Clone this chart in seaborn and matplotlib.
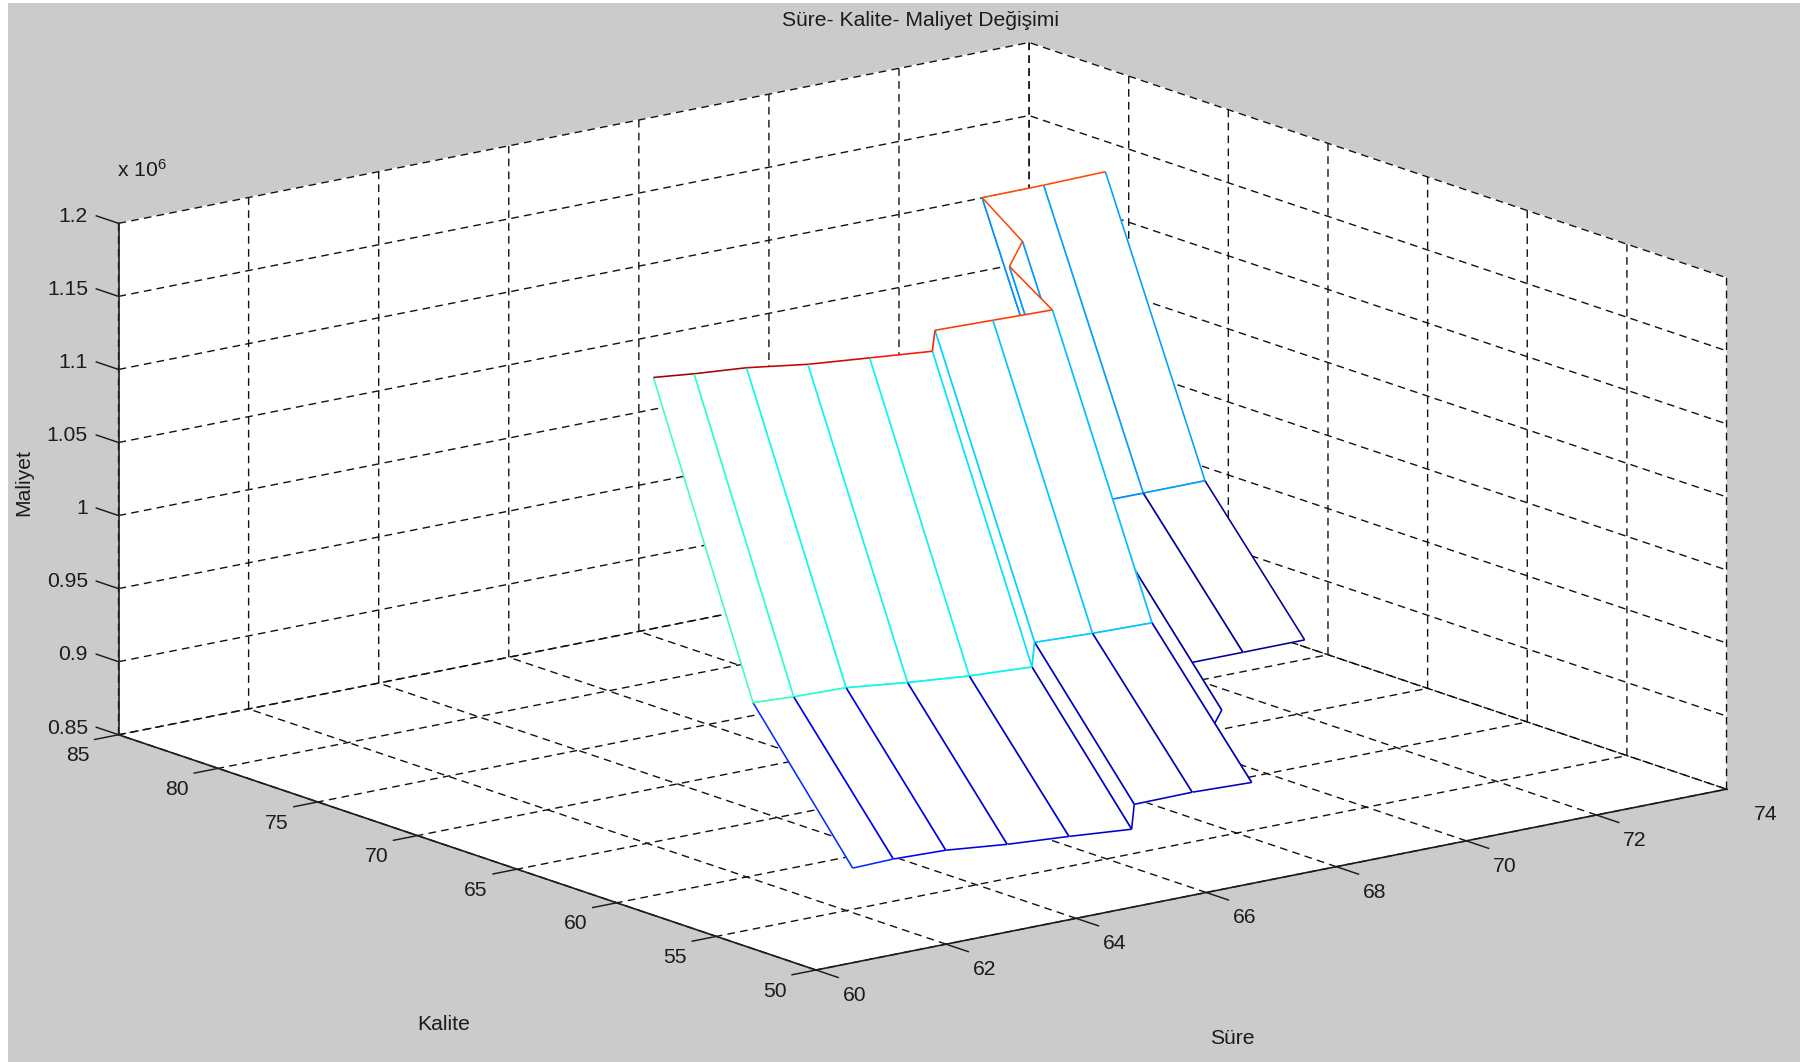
import numpy as np
import seaborn as sns
import matplotlib
matplotlib.use("Agg")
import matplotlib.pyplot as plt
from matplotlib.patches import Rectangle
from matplotlib.transforms import ScaledTranslation
from mpl_toolkits.mplot3d import proj3d
from mpl_toolkits.mplot3d.art3d import Poly3DCollection, Line3DCollection

# ---- data ----
sure = [62.096, 62.72, 63.526, 64.47, 65.42, 66.385, 66.425, 67.315, 68.23, 69.715, 69.915, 69.295, 70.24, 71.19]
kalite_ust = [65, 65, 65, 65, 65, 65, 65, 65, 65, 72, 72, 72, 72, 72]
kalite_orta = [60, 60, 60, 60, 60, 60, 60, 60, 60, 67, 67, 67, 67, 67]
kalite_alt = [55, 55, 55, 55, 55, 55, 55, 55, 55, 62, 62, 62, 62, 62]
maliyet_ust = [1.168, 1.165, 1.162, 1.156, 1.152, 1.148, 1.162, 1.161, 1.160, 1.1444, 1.1598, 1.1952, 1.1954, 1.1962]
maliyet_orta = [0.9684, 0.9669, 0.966, 0.9612, 0.9573, 0.9549, 0.9714, 0.9697, 0.9688, 0.9566, 0.972, 1.0077, 1.0076, 1.0077]
maliyet_alt = [0.8782, 0.8789, 0.8778, 0.8735, 0.8705, 0.8669, 0.8836, 0.884, 0.8826, 0.8701, 0.885, 0.9217, 0.9217, 0.9218]
renk_ust = [0.97, 0.96, 0.94, 0.92, 0.89, 0.875, 0.85, 0.85, 0.84, 0.83, 0.83, 0.83, 0.83, 0.83]
renk_orta = [0.43, 0.40, 0.37, 0.365, 0.365, 0.35, 0.33, 0.32, 0.31, 0.27, 0.27, 0.265, 0.28, 0.28]
renk_alt = [0.17, 0.10, 0.09, 0.08, 0.07, 0.06, 0.055, 0.05, 0.045, 0.04, 0.035, 0.03, 0.02, 0.02]

sure_ticks = [60, 62, 64, 66, 68, 70, 72, 74]
kalite_ticks = [50, 55, 60, 65, 70, 75, 80, 85]
maliyet_ticks = [0.85, 0.9, 0.95, 1.0, 1.05, 1.1, 1.15, 1.2]
maliyet_labels = ["0.85", "0.9", "0.95", "1", "1.05", "1.1", "1.15", "1.2"]

W, H = 1800, 1062
GREY = "#CBCBCB"
INK = "#1c1c1c"
FS = 15.2

sns.set_theme(style="ticks")
plt.rcParams["font.family"] = ["Liberation Sans", "DejaVu Sans"]
plt.rcParams["mathtext.default"] = "regular"
jet = matplotlib.colormaps["jet"]

fig = plt.figure(figsize=(W / 100, H / 100), dpi=100, facecolor="white")
fig.add_artist(Rectangle((8 / W, 0), (W - 8) / W, (H - 3) / H, transform=fig.transFigure,
                         facecolor=GREY, edgecolor="none", zorder=-10))

ax = fig.add_axes([0.1, 0.1, 800 / W, 800 / H], projection="3d", proj_type="ortho", computed_zorder=False)
ax.patch.set_alpha(0)
ax.view_init(elev=15, azim=-127.5)
ax.set_box_aspect((1148, 1146, 529.6))
ax.set_xlim(60, 74, view_margin=0)
ax.set_ylim(50, 85, view_margin=0)
ax.set_zlim(0.85, 1.2, view_margin=0)
ax.set_xticks(sure_ticks)
ax.set_yticks(kalite_ticks)
ax.set_zticks(maliyet_ticks)
ax.set_zticklabels(maliyet_labels)

for axis in (ax.xaxis, ax.yaxis, ax.zaxis):
    axis.set_pane_color((1, 1, 1, 1))
    axis.pane.set_edgecolor("white")
    axis.line.set_color(INK)
    axis.line.set_linewidth(1.2)
    info = axis._axinfo
    info["grid"].update(color="#111111", linewidth=1.0, linestyle=(0, (5.5, 3.8)))
    info["tick"].update(inward_factor=0, outward_factor=0)
ax.tick_params(axis="x", labelsize=FS, labelcolor=INK, pad=6)
ax.tick_params(axis="y", labelsize=FS, labelcolor=INK, pad=6)
ax.tick_params(axis="z", labelsize=FS, labelcolor=INK, pad=6)


# shift the tick labels (offsets in pixels) to where the reference has them;
# Axis3D resets the transforms whenever it fetches its ticks, so wrap that call
def shift_labels(axis, dx, dy, ha):
    shift = ScaledTranslation(dx / 100, dy / 100, fig.dpi_scale_trans)
    fetch = axis.get_major_ticks

    def fetch_shifted(numticks=None):
        ticks = fetch(numticks)
        for tick in ticks:
            tick.label1.set_transform(ax.transData + shift)
            tick.label1.set_ha(ha)
        return ticks

    axis.get_major_ticks = fetch_shifted


shift_labels(ax.xaxis, 23, 1, "center")
shift_labels(ax.yaxis, -20.5, 4, "center")
shift_labels(ax.zaxis, 5.7, 15, "right")

# tick marks, pointing outwards from the box edges as in the reference
TICK = dict(color=INK, linewidth=1.05, zorder=2, solid_capstyle="butt")
for s in sure_ticks:
    ax.plot([s, s], [50, 50 - 1.15], [0.85, 0.85], **TICK)
for k in kalite_ticks:
    ax.plot([60, 60 - 0.38], [k, k], [0.85, 0.85], **TICK)
for z in maliyet_ticks:
    ax.plot([60, 60], [85, 85 + 1.15], [z, z], **TICK)

T = np.column_stack([sure, kalite_ust, maliyet_ust])
M = np.column_stack([sure, kalite_orta, maliyet_orta])
B = np.column_stack([sure, kalite_alt, maliyet_alt])


def add_quad(order, a0, a1, b0, b1, segs, levels):
    poly = Poly3DCollection([[a0, a1, b1, b0]], facecolors="white", edgecolors="white", linewidths=0.3)
    ax.add_collection3d(poly, autolim=False)
    poly.set_zorder(10 + order)
    lines = Line3DCollection(segs, colors=[jet(v) for v in levels], linewidths=1.15)
    ax.add_collection3d(lines, autolim=False)
    lines.set_zorder(10.5 + order)


order = 0
for i in range(len(sure) - 2, -1, -1):
    add_quad(order, T[i], T[i + 1], M[i], M[i + 1],
             [[T[i], M[i]], [T[i + 1], M[i + 1]], [M[i], M[i + 1]], [T[i], T[i + 1]]],
             [renk_orta[i], renk_orta[i + 1], renk_orta[i], renk_ust[i]])
    order += 1
    add_quad(order, M[i], M[i + 1], B[i], B[i + 1],
             [[M[i], B[i]], [M[i + 1], B[i + 1]], [B[i], B[i + 1]], [M[i], M[i + 1]]],
             [renk_alt[i], renk_alt[i + 1], renk_alt[i], renk_orta[i]])
    order += 1


def to_px(s, k, z):
    x, y, _ = proj3d.proj_transform(s, k, z, ax.get_proj())
    return ax.transData.transform((x, y))


# fit the square 3-D axes so that the box corners land where they are in the reference
fig.canvas.draw()
front, right = to_px(60, 50, 0.85), to_px(74, 50, 0.85)
side = 800 * np.hypot(910.7, 180) / np.hypot(*(right - front))
ax.set_position([0.1, 0.1, side / W, side / H])
fig.canvas.draw()
front = to_px(60, 50, 0.85)
left = 0.1 * W + 816 - front[0]
bottom = 0.1 * H + (H - 970) - front[1]
ax.set_position([left / W, bottom / H, side / W, side / H])

fig.text(920.7 / W, 1 - 20 / H, "Süre- Kalite- Maliyet Değişimi", ha="center", va="center", fontsize=FS, color=INK)
fig.text(444 / W, 1 - 1024 / H, "Kalite", ha="center", va="center", fontsize=FS, color=INK)
fig.text(1232 / W, 1 - 1039 / H, "Süre", ha="center", va="center", fontsize=FS, color=INK)
fig.text(24 / W, 1 - 482 / H, "Maliyet", ha="center", va="center", rotation=90, fontsize=FS, color=INK)
fig.text(117 / W, 1 - 170 / H, r"x 10$^{6}$", ha="left", va="center", fontsize=FS, color=INK)

fig.savefig("out.png", dpi=100, facecolor="white")
